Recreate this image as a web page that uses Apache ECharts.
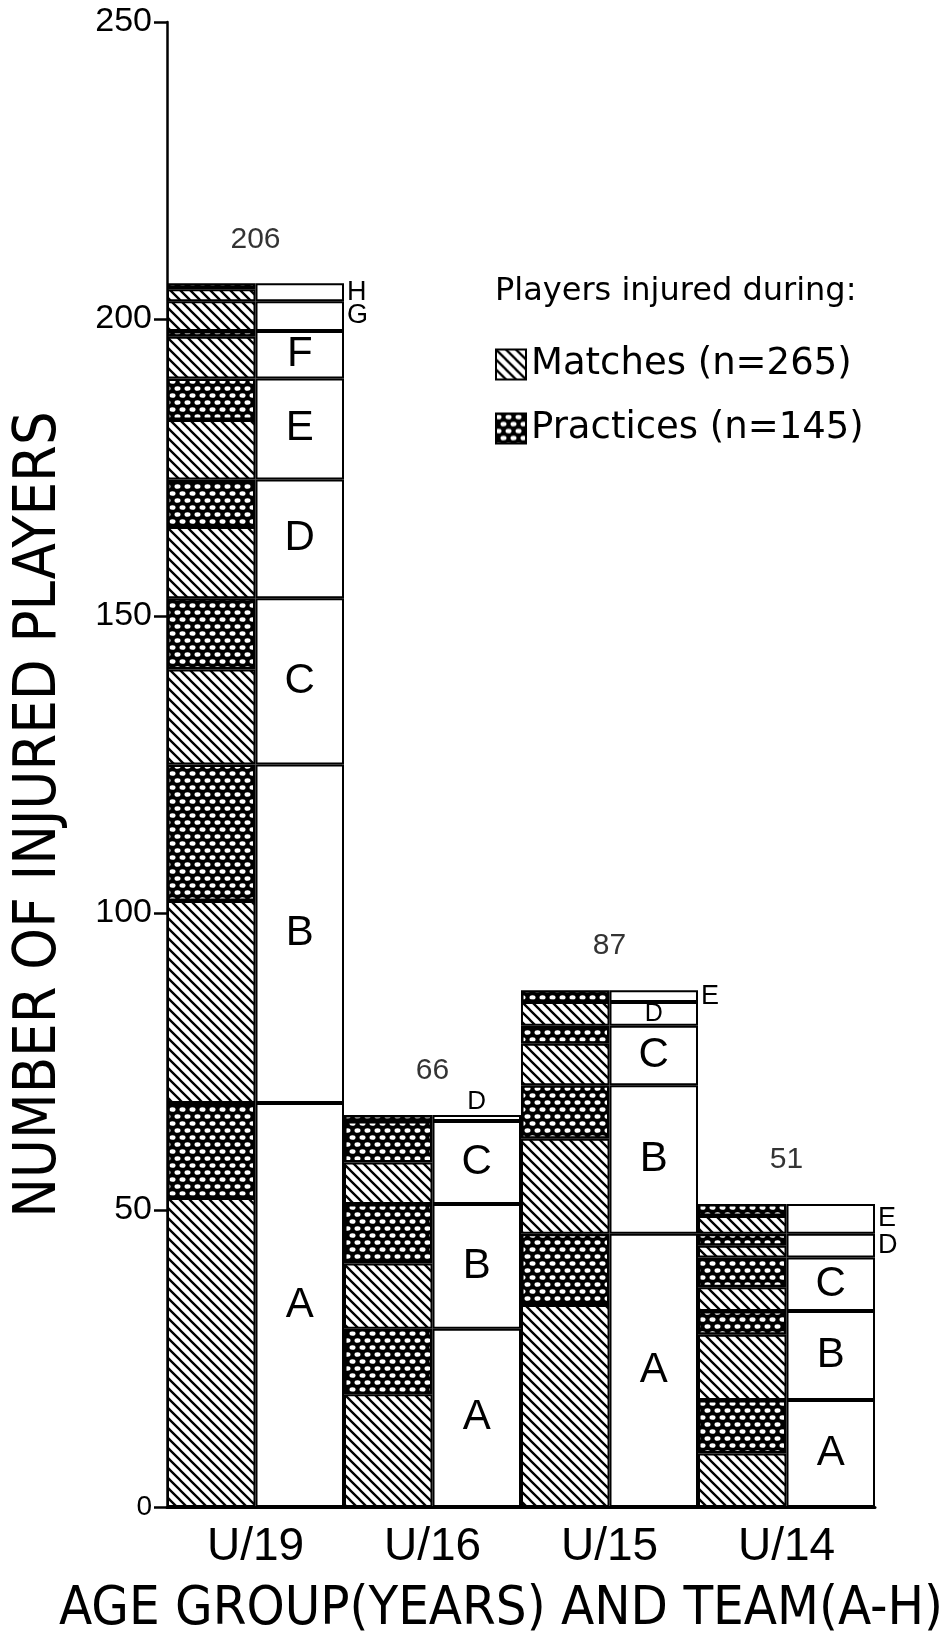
<!DOCTYPE html>
<html>
<head>
<meta charset="utf-8">
<script src="https://cdn.jsdelivr.net/npm/echarts@6/dist/echarts.min.js"></script>
<style>
html,body{margin:0;padding:0;background:#fff;}
#chart{width:950px;height:1637px;}
</style>
</head>
<body>
<div id="chart"></div>
<script>
// ---- data ----
const ageGroups = ['U/19', 'U/16', 'U/15', 'U/14'];
const teams = ['A', 'B', 'C', 'D', 'E', 'F', 'G', 'H'];
// injured players per team, in team order A, B, C ...
const u19Matches   = [52, 34, 16, 12, 10, 7, 5, 2];
const u19Practices = [16, 23, 12, 8, 7, 1, 0, 1];
const u16Matches   = [19, 11, 7, 0];
const u16Practices = [11, 10, 7, 1];
const u15Matches   = [34, 16, 7, 4, 0];
const u15Practices = [12, 9, 3, 0, 2];
const u14Matches   = [9, 11, 4, 2, 3];
const u14Practices = [9, 4, 5, 2, 2];
const yTicks = [0, 50, 100, 150, 200, 250];

// ---- derived ----
const matchesByGroup = [u19Matches, u16Matches, u15Matches, u14Matches];
const practicesByGroup = [u19Practices, u16Practices, u15Practices, u14Practices];
const sum = a => a.reduce((s, v) => s + v, 0);
const groupTotals = ageGroups.map((g, i) => sum(matchesByGroup[i]) + sum(practicesByGroup[i]));
const matchesTotal = sum(matchesByGroup.map(sum));
const practicesTotal = sum(practicesByGroup.map(sum));
const matchesName = 'Matches (n=' + matchesTotal + ')';
const practicesName = 'Practices (n=' + practicesTotal + ')';

// ---- styles ----
const SANS = "'Liberation Sans', Arial, sans-serif";
const NARROW = "'Liberation Sans Narrow', 'DejaVu Sans Condensed', 'Liberation Sans', sans-serif";
const WIDE = "'DejaVu Sans', 'Liberation Sans', sans-serif";

function hatchPattern() {
  const c = document.createElement('canvas');
  c.width = 10; c.height = 10;
  const g = c.getContext('2d');
  g.fillStyle = '#fff'; g.fillRect(0, 0, 10, 10);
  g.strokeStyle = '#000'; g.lineWidth = 2.3;
  g.beginPath();
  g.moveTo(-2, -2); g.lineTo(12, 12);
  g.moveTo(-2, 8); g.lineTo(2, 12);
  g.moveTo(8, -2); g.lineTo(12, 2);
  g.stroke();
  return c;
}
function dotPattern() {
  const c = document.createElement('canvas');
  c.width = 10; c.height = 14;
  const g = c.getContext('2d');
  g.fillStyle = '#000'; g.fillRect(0, 0, 10, 14);
  g.fillStyle = '#fff';
  const pts = [[2.5, 3.5], [7.5, 10.5]];
  pts.forEach(([x, y]) => {
    [-10, 0, 10].forEach(dx => [-14, 0, 14].forEach(dy => {
      g.beginPath(); g.ellipse(x + dx, y + dy, 3.0, 2.3, 0, 0, Math.PI * 2); g.fill();
    }));
  });
  return c;
}
const hatchFill = { image: hatchPattern(), repeat: 'repeat' };
const dotFill = { image: dotPattern(), repeat: 'repeat' };

// where a team letter does not fit inside its white segment
const letterPlacement = {
  'U/19': { G: 'right', H: 'right' },
  'U/16': { D: 'top' },
  'U/15': { D: 'small', E: 'right' },
  'U/14': { D: 'right', E: 'right' }
};
function placeLabel(kind) {
  if (kind === 'right') return { position: 'right', distance: 3, fontSize: 27 };
  if (kind === 'top') return { position: 'top', distance: 0, fontSize: 26 };
  return { position: 'inside', fontSize: 25 };
}

const series = [];
teams.forEach((t, ti) => {
  series.push({
    type: 'bar', stack: 'events', name: matchesName,
    data: matchesByGroup.map(a => (ti < a.length && a[ti] > 0) ? a[ti] : null),
    itemStyle: { color: hatchFill, borderColor: '#000', borderWidth: 2 }
  });
  series.push({
    type: 'bar', stack: 'events', name: practicesName,
    data: practicesByGroup.map(a => (ti < a.length && a[ti] > 0) ? a[ti] : null),
    itemStyle: { color: dotFill, borderColor: '#000', borderWidth: 2.5 }
  });
});
teams.forEach((t, ti) => {
  series.push({
    type: 'bar', stack: 'teams', name: 'Team ' + t,
    data: ageGroups.map((g, gi) => {
      const m = matchesByGroup[gi], p = practicesByGroup[gi];
      if (ti >= m.length) return null;
      const v = m[ti] + p[ti];
      const place = letterPlacement[g] && letterPlacement[g][t];
      return place ? { value: v, label: placeLabel(place) } : v;
    }),
    itemStyle: { color: '#fff', borderColor: '#000', borderWidth: 2 },
    label: {
      show: true, position: 'inside', formatter: () => t,
      fontSize: 42, color: '#000', fontFamily: SANS
    }
  });
});
series.push({
  type: 'scatter', name: 'total', data: groupTotals, symbolSize: 0,
  itemStyle: { color: '#000' }, silent: true, z: 10,
  label: { show: true, position: 'top', distance: 29, fontSize: 30, color: '#000', fontFamily: SANS,
           formatter: p => String(p.value) }
});

const chart = echarts.init(document.getElementById('chart'), null, { renderer: 'canvas' });
chart.setOption({
  animation: false,
  backgroundColor: '#fff',
  title: {
    text: 'Players injured during:', left: 490, top: 271,
    textStyle: { fontSize: 32, fontWeight: 'normal', color: '#000', fontFamily: WIDE }
  },
  legend: {
    data: [matchesName, practicesName], orient: 'vertical', left: 490, top: 341,
    icon: 'rect', itemWidth: 30, itemHeight: 30, itemGap: 27,
    selectedMode: false,
    textStyle: { fontSize: 37, color: '#000', fontFamily: WIDE, lineHeight: 30 }
  },
  grid: { left: 167, right: 75, top: 22, bottom: 130, outerBoundsMode: 'none' },
  xAxis: {
    type: 'category', data: ageGroups,
    axisLine: { show: true, lineStyle: { color: '#000', width: 3 } },
    axisTick: { show: false },
    axisLabel: { fontSize: 46, color: '#000', margin: 17, fontFamily: SANS },
    name: 'AGE GROUP(YEARS) AND TEAM(A-H)', nameLocation: 'middle', nameGap: 76,
    nameTextStyle: { fontSize: 54, color: '#000', fontFamily: NARROW, padding: [0, 40, 0, 0] }
  },
  yAxis: {
    type: 'value', min: yTicks[0], max: yTicks[yTicks.length - 1], interval: yTicks[1] - yTicks[0],
    axisLine: { show: true, lineStyle: { color: '#000', width: 2.5 } },
    axisTick: { show: true, length: 13, lineStyle: { color: '#000', width: 2.5 } },
    splitLine: { show: false },
    axisLabel: {
      color: '#000', margin: 15,
      formatter: v => v === 0 ? '{s|0}' : '{n|' + v + '}',
      rich: {
        s: { fontSize: 28, color: '#000', fontFamily: SANS },
        n: { fontSize: 34, color: '#000', fontFamily: SANS }
      }
    },
    name: 'NUMBER OF INJURED PLAYERS', nameLocation: 'middle', nameGap: 98,
    nameTextStyle: { fontSize: 59, color: '#000', fontFamily: NARROW, padding: [0, 100, 0, 0] }
  },
  series: series.map(s => s.type === 'bar' ? Object.assign({ barGap: '0%', barCategoryGap: '0%' }, s) : s)
});
</script>
</body>
</html>
